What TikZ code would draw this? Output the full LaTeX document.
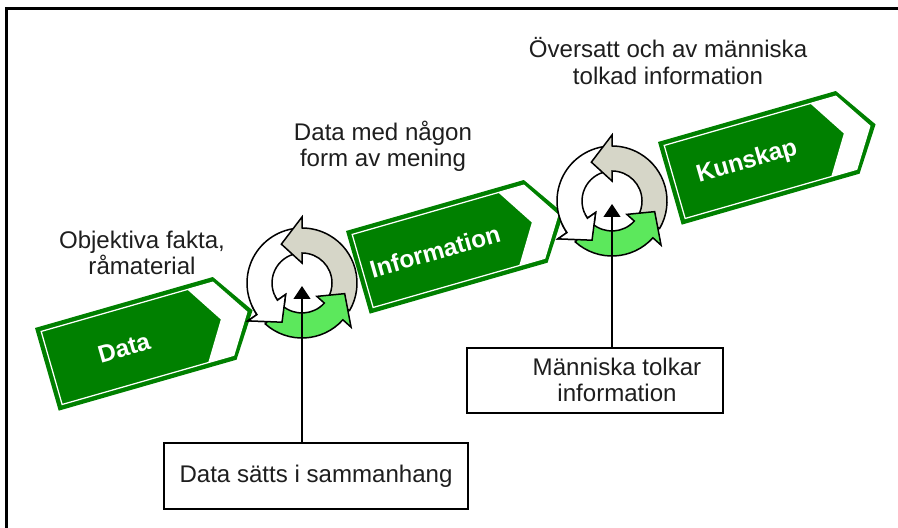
\documentclass[tikz,border=0pt]{standalone}
\usepackage{fontspec}
\setmainfont{Liberation Sans}
\usetikzlibrary{arrows.meta}

\definecolor{signgreen}{RGB}{0,128,0}
\definecolor{cyclegreen}{RGB}{92,232,92}
\definecolor{cyclegrey}{RGB}{214,214,200}
\definecolor{inktext}{RGB}{30,30,30}

\tikzset{
    caption/.style={align=center, text=inktext, font=\fontsize{13.7}{15}\selectfont},
    signlabel/.style={text=white, font=\fontsize{13.9}{15}\selectfont\bfseries, rotate=16},
    notebox/.style={draw, line width=0.3mm, fill=white},
    ringline/.style={draw=black, line width=0.3mm},
    pointer/.style={line width=0.25mm, -{Triangle[length=2.6mm,width=3.4mm]}},
}

% one arrow of the ring: fill, tail angle, head angle
\newcommand{\ringarrow}[3]{%
    \filldraw[ringline, fill=#1]
        (#2:55) arc[start angle=#2, end angle=#3, radius=55]
        -- (#3:66) -- ({#3+28}:44) -- (#3:20)
        -- (#3:30) arc[start angle=#3, end angle=#2, radius=30] -- cycle;
}

% three arrows going round: centre x, centre y, name of the hub
\newcommand{\recycle}[3]{%
    \begin{scope}[shift={(#1,#2)}, yscale=-1]
        \ringarrow{white}{100}{215}
        \ringarrow{cyclegrey}{-30}{90}
        \ringarrow{cyclegreen}{228}{318}
        % white head lies over the green tail
        \begin{scope}
            \clip (0,0) -- (205:90) arc[start angle=205, end angle=265, radius=90] -- cycle;
            \ringarrow{white}{100}{215}
        \end{scope}
        \coordinate (#3) at (0,-3);
    \end{scope}
}

% arrow shaped sign: corner x, corner y, node name, text
\newcommand{\signtag}[4]{%
    \begin{scope}[shift={(#1,#2)}, rotate=16]
        \fill[signgreen] (0,0) -- (185,0) -- (214,43) -- (185,86) -- (0,86) -- cycle;
        \fill[white] (157,5) -- (183.5,5) -- (208,43) -- (183.5,81) -- (157,81) -- (181,43) -- cycle;
        \draw[white, line width=0.25mm] (5,5) -- (183.5,5) -- (208,43) -- (183.5,81) -- (5,81) -- cycle;
        \node[signlabel] (#3) at (80,44) {#4};
    \end{scope}
}

\begin{document}
\begin{tikzpicture}[x=0.2mm, y=-0.2mm]
    \useasboundingbox (0,0) rectangle (898,528);
    \draw[line width=0.6mm] (6.5,528) -- (6.5,8.5) -- (898,8.5);

    \signtag{35}{328}{data}{Data}
    \recycle{302}{283}{hub1}
    \signtag{346}{231}{information}{Information}
    \recycle{612}{201}{hub2}
    \signtag{658}{142}{kunskap}{Kunskap}

    \node[caption] (fakta) at (142,253) {Objektiva fakta,\\råmaterial};
    \node[caption] (mening) at (383,146) {Data med någon\\form av mening};
    \node[caption] (tolkad) at (668,61) {Översatt och av människa\\tolkad information};

    \node[notebox, caption, minimum width=60.8mm, minimum height=13.2mm] (sammanhang) at (316,476) {Data sätts i sammanhang};
    \node[notebox, minimum width=51.2mm, minimum height=13mm] (tolkar) at (595,380.5) {};
    \node[caption] (tolkartext) at (617,380) {Människa tolkar\\information};

    \draw[pointer] (sammanhang.north -| hub1) -- (hub1);
    \draw[pointer] (tolkar.north -| hub2) -- (hub2);
\end{tikzpicture}
\end{document}
